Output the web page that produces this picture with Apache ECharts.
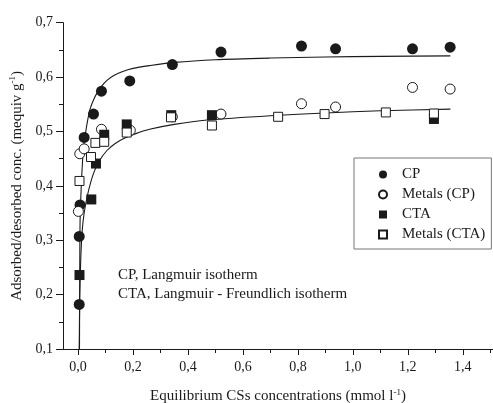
<!DOCTYPE html>
<html>
<head>
<meta charset="utf-8">
<script src="https://cdn.jsdelivr.net/npm/echarts@6/dist/echarts.min.js"></script>
<style>
  html, body { margin: 0; padding: 0; background: #fff; }
  #chart { width: 493px; height: 403px; }
</style>
</head>
<body>
<div id="chart"></div>
<script>
// measured points
const cpX = [0.004, 0.004, 0.007, 0.022, 0.056, 0.085, 0.188, 0.343, 0.52, 0.813, 0.937, 1.217, 1.354]
const cpY = [0.182, 0.307, 0.365, 0.489, 0.532, 0.574, 0.593, 0.623, 0.646, 0.657, 0.652, 0.652, 0.655]

const metCpX = [0.001, 0.006, 0.022, 0.085, 0.19, 0.343, 0.52, 0.813, 0.937, 1.217, 1.354]
const metCpY = [0.353, 0.459, 0.468, 0.504, 0.502, 0.527, 0.532, 0.551, 0.545, 0.581, 0.578]

const ctaX = [0.005, 0.048, 0.065, 0.095, 0.177, 0.339, 0.487, 1.295]
const ctaY = [0.236, 0.375, 0.441, 0.494, 0.513, 0.530, 0.530, 0.523]

const metCtaX = [0.005, 0.047, 0.063, 0.095, 0.177, 0.338, 0.487, 0.728, 0.897, 1.12, 1.295]
const metCtaY = [0.409, 0.453, 0.479, 0.481, 0.498, 0.526, 0.511, 0.527, 0.532, 0.535, 0.533]

// fitted curves
const cpFitX = [0.005, 0.006, 0.007, 0.01, 0.013, 0.019, 0.027, 0.036, 0.044, 0.056, 0.068, 0.085, 0.105, 0.13, 0.16, 0.2, 0.26, 0.35, 0.5, 0.7, 0.9, 1.1, 1.355]
const cpFitY = [0.1, 0.25, 0.33, 0.38, 0.417, 0.466, 0.497, 0.524, 0.542, 0.558, 0.57, 0.583, 0.594, 0.603, 0.61, 0.616, 0.621, 0.627, 0.632, 0.635, 0.637, 0.638, 0.639]

const ctaFitX = [0.004, 0.006, 0.01, 0.015, 0.022, 0.033, 0.045, 0.06, 0.08, 0.105, 0.135, 0.17, 0.21, 0.26, 0.35, 0.47, 0.7, 0.9, 1.1, 1.355]
const ctaFitY = [0.1, 0.2, 0.27, 0.318, 0.35, 0.38, 0.405, 0.428, 0.448, 0.465, 0.478, 0.488, 0.496, 0.504, 0.513, 0.521, 0.529, 0.534, 0.538, 0.541]

// axis ticks
const xLabelVals = [0, 0.2, 0.4, 0.6, 0.8, 1.0, 1.2, 1.4]
const xMinorVals = [0.1, 0.3, 0.5, 0.7, 0.9, 1.1, 1.3, 1.5]

const seriesNames = ['CP', 'Metals (CP)', 'CTA', 'Metals (CTA)']
const annotLines = ['CP, Langmuir isotherm', 'CTA, Langmuir - Freundlich isotherm']

const FONT = 'Liberation Serif'
const INK = '#1a1a1a'

const zip = (xs, ys) => xs.map((x, i) => [x, ys[i]])
const comma = v => v.toFixed(1).replace('.', ',')

const chart = echarts.init(document.getElementById('chart'))

const supStyle = { fontFamily: FONT, fontSize: 9, verticalAlign: 'top', padding: [0, 0, 8, 0], color: INK }

const xBase = {
  type: 'value',
  min: -0.055,
  max: 1.51,
  splitLine: { show: false },
  position: 'bottom'
}

const option = {
  animation: false,
  backgroundColor: '#fff',
  textStyle: { fontFamily: FONT, color: INK },
  grid: { left: 63, right: 0, top: 22.7, bottom: 54, outerBoundsMode: 'none', containLabel: false },
  legend: {
    data: seriesNames,
    orient: 'vertical',
    left: 354,
    top: 158,
    padding: [9, 6, 7, 24],
    itemWidth: 8,
    itemHeight: 8,
    itemGap: 5,
    borderColor: '#777',
    borderWidth: 1,
    textStyle: { fontFamily: FONT, fontSize: 15, color: INK, lineHeight: 14, padding: [0, 0, 0, 10] }
  },
  xAxis: [
    Object.assign({}, xBase, {
      name: 'Equilibrium CSs concentrations (mmol l{sup|-1})',
      nameLocation: 'middle',
      nameGap: 39,
      nameTextStyle: { fontFamily: FONT, fontSize: 15, color: INK, rich: { sup: supStyle } },
      axisLine: { onZero: false, lineStyle: { color: INK, width: 1 } },
      axisTick: { length: 6, lineStyle: { color: INK }, customValues: xLabelVals },
      axisLabel: { fontFamily: FONT, fontSize: 14, color: INK, margin: 11, customValues: xLabelVals, formatter: comma }
    }),
    Object.assign({}, xBase, {
      axisLine: { show: false, onZero: false },
      axisTick: { length: 4, lineStyle: { color: INK }, customValues: xMinorVals },
      axisLabel: { show: false }
    })
  ],
  yAxis: {
    type: 'value',
    min: 0.1,
    max: 0.7,
    interval: 0.1,
    name: 'Adsorbed/desorbed conc. (mequiv g{sup|-1})',
    nameLocation: 'middle',
    nameGap: 37,
    nameTextStyle: { fontFamily: FONT, fontSize: 15, color: INK, rich: { sup: supStyle } },
    splitLine: { show: false },
    axisLine: { show: true, onZero: false, lineStyle: { color: INK, width: 1 } },
    axisTick: { show: true, length: 7, lineStyle: { color: INK } },
    minorTick: { show: true, splitNumber: 2, length: 4, lineStyle: { color: INK } },
    axisLabel: { fontFamily: FONT, fontSize: 14, color: INK, margin: 10, formatter: comma }
  },
  graphic: annotLines.map((t, i) => ({
    type: 'text',
    left: 118,
    top: 268 + i * 19,
    style: { text: t, font: '15px "Liberation Serif"', fill: INK }
  })),
  series: [
    {
      name: 'cpFit', type: 'line', data: zip(cpFitX, cpFitY), showSymbol: false,
      smooth: 0.25, lineStyle: { color: INK, width: 1.1 }, silent: true, z: 1
    },
    {
      name: 'ctaFit', type: 'line', data: zip(ctaFitX, ctaFitY), showSymbol: false,
      smooth: 0.25, lineStyle: { color: INK, width: 1.1 }, silent: true, z: 1
    },
    {
      name: seriesNames[0], type: 'scatter', data: zip(cpX, cpY),
      symbol: 'circle', symbolSize: 11, itemStyle: { color: INK, opacity: 1 }, z: 3
    },
    {
      name: seriesNames[1], type: 'scatter', data: zip(metCpX, metCpY),
      symbol: 'circle', symbolSize: 10, itemStyle: { color: '#fff', borderColor: INK, borderWidth: 1, opacity: 1 }, z: 3
    },
    {
      name: seriesNames[2], type: 'scatter', data: zip(ctaX, ctaY),
      symbol: 'rect', symbolSize: 10, itemStyle: { color: INK, opacity: 1 }, z: 3
    },
    {
      name: seriesNames[3], type: 'scatter', data: zip(metCtaX, metCtaY),
      symbol: 'rect', symbolSize: 9, itemStyle: { color: '#fff', borderColor: INK, borderWidth: 1, opacity: 1 }, z: 3
    }
  ]
}

chart.setOption(option)
</script>
</body>
</html>
